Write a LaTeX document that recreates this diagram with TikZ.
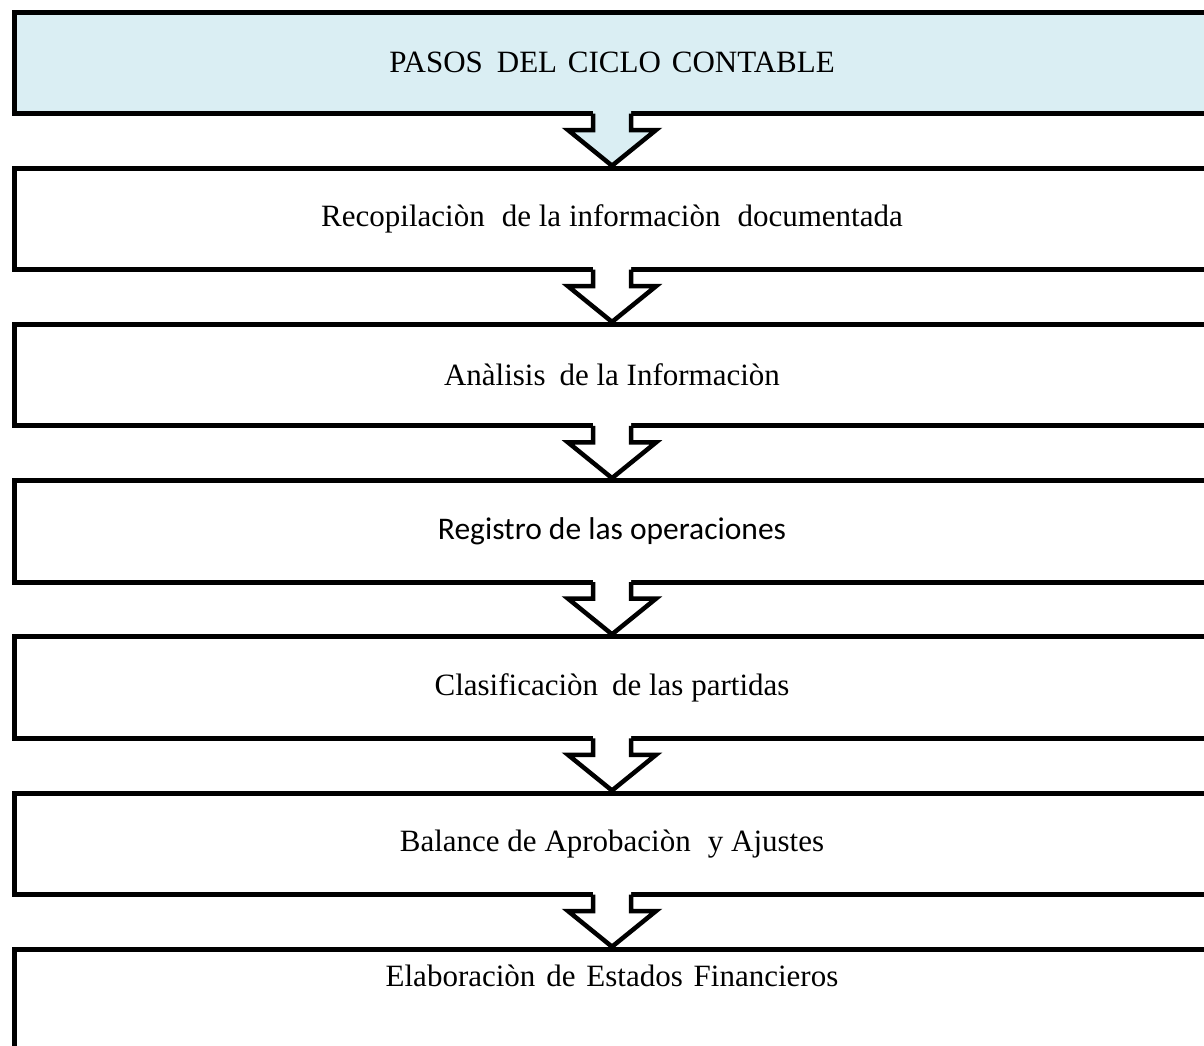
\documentclass[tikz,border=0pt]{standalone}
\usepackage{fontspec}
\setmainfont{Liberation Serif}
\newfontfamily\calibrifont{Carlito}
\usetikzlibrary{calc}
\definecolor{boxblue}{HTML}{DAEEF3}
\begin{document}
\begin{tikzpicture}[x=1pt,y=1pt,
  stepbox/.style={draw=black, line width=5pt, rectangle, minimum width=1195pt,
    minimum height=101.5pt, anchor=north west, inner sep=0pt, fill=white,
    font=\fontsize{31}{36}\selectfont},
  headbox/.style={stepbox, fill=boxblue},
  arrowline/.style={draw=black, line width=4.5pt, line join=miter, miter limit=10},
  steptext/.style={inner sep=0pt, font=\fontsize{31}{36}\selectfont}
]
\useasboundingbox (0,0) rectangle (1204,-1045);
\newcommand\flowarrow[3]{%
  \fill[#3] ($(#1.south)+(-19,6)$) -- ($(#1.south)+(-19,-14)$) -- ($(#1.south)+(-44,-14)$)
     -- (#2.north) -- ($(#1.south)+(44,-14)$) -- ($(#1.south)+(19,-14)$)
     -- ($(#1.south)+(19,6)$) -- cycle;
  \draw[arrowline] ($(#1.south)+(-19,2.5)$) -- ($(#1.south)+(-19,-14)$) -- ($(#1.south)+(-44,-14)$)
     -- (#2.north) -- ($(#1.south)+(44,-14)$) -- ($(#1.south)+(19,-14)$)
     -- ($(#1.south)+(19,2.5)$);
}
\node[headbox] (b1) at (12,-9.5) {PASOS\hspace{0.2em} DEL\hspace{0.1em} CICLO\hspace{0.1em} CONTABLE};
\node[stepbox] (b2) at (12,-165.7) {Recopilaciòn\hspace{0.3em} de la informaciòn\hspace{0.3em} documentada};
\node[stepbox] (b3) at (12,-321.9) {Anàlisis\hspace{0.2em} de la Informaciòn};
\node[stepbox, font=\calibrifont\fontsize{31.5}{36}\selectfont] (b4) at (12,-478.1) {Registro de las operaciones};
\node[stepbox] (b5) at (12,-634.3) {Clasificaciòn\hspace{0.2em} de las partidas};
\node[stepbox] (b6) at (12,-790.5) {Balance de Aprobaciòn\hspace{0.3em} y Ajustes};
\node[stepbox] (b7) at (12,-946.7) {};
\node[steptext] (t7) at ($(b7.north)+(0,-29)$) {Elaboraciòn\hspace{0.1em} de\hspace{0.1em} Estados\hspace{0.1em} Financieros};
\flowarrow{b1}{b2}{boxblue}
\flowarrow{b2}{b3}{white}
\flowarrow{b3}{b4}{white}
\flowarrow{b4}{b5}{white}
\flowarrow{b5}{b6}{white}
\flowarrow{b6}{b7}{white}
\end{tikzpicture}
\end{document}
